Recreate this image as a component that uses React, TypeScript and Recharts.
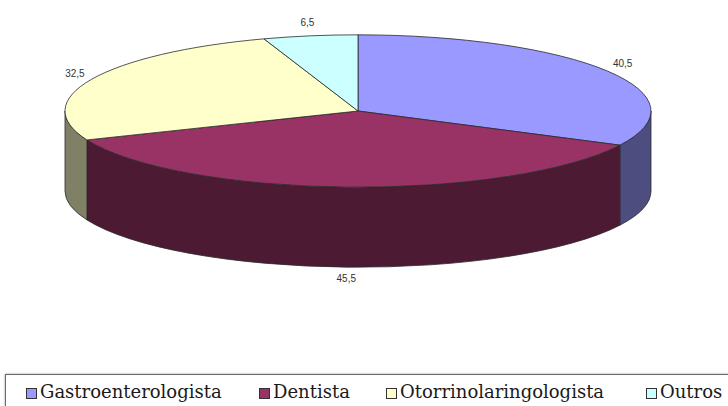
import React from "react";
import { PieChart, Pie, Cell, Legend } from "recharts";

const categories = ["Gastroenterologista", "Dentista", "Otorrinolaringologista", "Outros"];
const values = [40.5, 45.5, 32.5, 6.5];
const topColors = ["#9999FF", "#993366", "#FFFFCC", "#CCFFFF"];
const sideColors = ["#4D4D80", "#4D1A33", "#808066", "#668080"];

const data = categories.map((name, i) => ({ name, value: values[i] }));

const SY = 0.26;
const DEPTH = 80;
const rad = (a: number) => (a * Math.PI) / 180;

function Slice3D(props: any) {
  const { cx, cy, outerRadius, startAngle, endAngle, fill, index } = props;
  const rx = outerRadius;
  const ry = outerRadius * SY;
  const lo = Math.min(startAngle, endAngle);
  const hi = Math.max(startAngle, endAngle);
  const pt = (a: number, dy = 0) => [cx + rx * Math.cos(rad(a)), cy - ry * Math.sin(rad(a)) + dy];
  const p0 = pt(hi);
  const p1 = pt(lo);
  const large = hi - lo > 180 ? 1 : 0;
  const top = `M${cx},${cy} L${p0[0]},${p0[1]} A${rx},${ry} 0 ${large} 1 ${p1[0]},${p1[1]} Z`;
  const sides: string[] = [];
  for (let k = -2; k <= 2; k++) {
    const a0 = -180 + 360 * k;
    const b0 = 0 + 360 * k;
    const a = Math.max(lo, a0);
    const b = Math.min(hi, b0);
    if (b - a > 0.01) {
      const s0 = pt(b);
      const s1 = pt(a);
      const s2 = pt(a, DEPTH);
      const s3 = pt(b, DEPTH);
      sides.push(
        `M${s0[0]},${s0[1]} A${rx},${ry} 0 0 1 ${s1[0]},${s1[1]} L${s2[0]},${s2[1]} A${rx},${ry} 0 0 0 ${s3[0]},${s3[1]} Z`
      );
    }
  }
  let idx = topColors.indexOf(fill);
  if (idx < 0) idx = typeof index === "number" ? index : 0;
  return (
    <g>
      {sides.map((d, i) => (
        <path key={i} d={d} fill={sideColors[idx]} stroke="#2a2a2a" strokeWidth={0.8} strokeLinejoin="round" />
      ))}
      <path d={top} fill={fill} stroke="#2a2a2a" strokeWidth={0.8} strokeLinejoin="round" />
    </g>
  );
}

function renderLabel(props: any) {
  const { cx, cy, midAngle, outerRadius, value } = props;
  const rx = outerRadius + 18;
  const ry = outerRadius * SY + 14;
  const s = Math.sin(rad(midAngle));
  const x = cx + rx * Math.cos(rad(midAngle));
  let y = cy - ry * s;
  if (s < -0.3) y += DEPTH - 3;
  return (
    <text
      x={x}
      y={y}
      textAnchor="middle"
      dominantBaseline="central"
      fontSize={10}
      fill="#333"
      fontFamily="'Liberation Sans Narrow', 'Liberation Sans', Arial, sans-serif"
    >
      {String(value).replace(".", ",")}
    </text>
  );
}

function LegendContent() {
  const textLeft = [40, 273, 400, 660];
  return (
    <div
      style={{
        position: "relative",
        width: 760,
        height: 40,
        border: "1.5px solid #6a6a6a",
        boxShadow: "0 0 2px #999",
        boxSizing: "border-box",
        background: "#fff",
        fontFamily: "'DejaVu Serif', Georgia, serif",
        fontSize: 18,
        color: "#1a1a1a",
      }}
    >
      {categories.map((c, i) => (
        <React.Fragment key={c}>
          <span
            style={{
              position: "absolute",
              left: textLeft[i] - 6 - 14,
              top: 13,
              width: 9,
              height: 9,
              background: topColors[i],
              border: "1px solid #333",
            }}
          />
          <span style={{ position: "absolute", left: textLeft[i] - 6, top: 5, whiteSpace: "nowrap", lineHeight: "24px" }}>{c}</span>
        </React.Fragment>
      ))}
    </div>
  );
}

export default function App() {
  return (
    <div style={{ width: 728, height: 406, background: "#fff", overflow: "hidden", position: "relative" }}>
      <style>{`body{margin:0;}`}</style>
      <PieChart width={728} height={406} margin={{ top: 0, right: 0, bottom: 0, left: 0 }}>
        <Pie
          data={data}
          dataKey="value"
          nameKey="name"
          cx={358}
          cy={111}
          outerRadius={293}
          startAngle={90}
          endAngle={-270}
          isAnimationActive={false}
          shape={Slice3D}
          activeShape={Slice3D}
          inactiveShape={Slice3D}
          label={renderLabel}
          labelLine={false}
        >
          {data.map((d, i) => (
            <Cell key={d.name} fill={topColors[i]} />
          ))}
        </Pie>
        <Legend
          content={() => <LegendContent />}
          wrapperStyle={{ position: "absolute", left: 5, top: 374, width: 760, height: 40 }}
        />
      </PieChart>
    </div>
  );
}
